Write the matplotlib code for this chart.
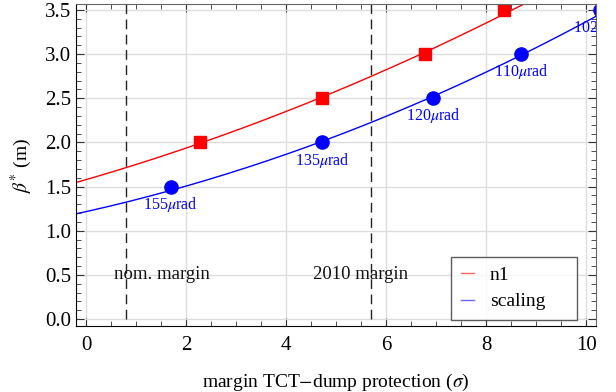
import numpy as np
import matplotlib
matplotlib.use("Agg")
import matplotlib.pyplot as plt
from matplotlib.ticker import MultipleLocator

plt.rcParams['font.family'] = ['Liberation Serif', 'DejaVu Serif']
plt.rcParams['mathtext.fontset'] = 'stix'

# data
n1_x = [2.28, 4.72, 6.78, 8.35]
n1_y = [2.0, 2.5, 3.0, 3.5]
sc_x = [1.69, 4.72, 6.93, 8.70, 10.27]
sc_y = [1.5, 2.0, 2.5, 3.0, 3.5]
sc_labels = ["155$\\mu$rad", "135$\\mu$rad", "120$\\mu$rad", "110$\\mu$rad", "102$\\mu$rad"]
# curve readings (including axis-edge values)
n1_curve_x = [-0.2, 0.8, 2.28, 4.72, 6.78, 7.47, 8.35, 8.85]
n1_curve_y = [1.54, 1.72, 2.0, 2.5, 3.0, 3.235, 3.48, 3.567]
sc_curve_x = [-0.2, 0.8, 1.69, 4.72, 6.93, 8.70, 10.19]
sc_curve_y = [1.17, 1.32, 1.5, 2.0, 2.5, 3.0, 3.43]
margins = [0.8, 5.7]
margin_labels = ["nom. margin", "2010 margin"]
margin_label_x = [1.51, 5.49]

fig = plt.figure(figsize=(6.16, 3.92), dpi=100)
ax = fig.add_axes([0.1234, 0.168, 0.9675 - 0.1234, 0.9898 - 0.168])

xs = np.linspace(-0.3, 10.4, 300)
pr = np.polyfit(n1_curve_x, n1_curve_y, 2)
pb = np.polyfit(sc_curve_x, sc_curve_y, 2)
ax.plot(xs, np.polyval(pr, xs), color='#ff0000', lw=1.0, label='n1')
ax.plot(xs, np.polyval(pb, xs), color='#0000ff', lw=1.0, label='scaling')
ax.plot(n1_x, n1_y, 's', color='#ff0000', ms=8.5, ls='none')
ax.plot(sc_x, sc_y, 'o', color='#0000ff', ms=9.5, ls='none')

for x, y, t in zip(sc_x, sc_y, sc_labels):
    ax.text(x, y - 0.2, t, color='#0000ff', fontsize=11.5, ha='center', va='center', clip_on=True)

for m in margins:
    ax.plot([m, m], [0, 3.7], ls=(0, (7, 4)), color='#222222', lw=1.0)
for x, t in zip(margin_label_x, margin_labels):
    ax.text(x, 0.5, t, fontsize=13.5, ha='center', va='center', color='#111111')

ax.set_xlim(-0.2, 10.19)
ax.set_ylim(-0.08, 3.567)
ax.xaxis.set_major_locator(MultipleLocator(2))
ax.xaxis.set_minor_locator(MultipleLocator(0.5))
ax.yaxis.set_major_locator(MultipleLocator(0.5))
ax.yaxis.set_minor_locator(MultipleLocator(0.1))
ax.yaxis.set_major_formatter(matplotlib.ticker.FormatStrFormatter('%.1f'))
ax.grid(True, which='major', color='#dddddd', lw=1.0)
ax.set_axisbelow(True)
ax.tick_params(which='both', direction='in', top=True, right=True, labelsize=15, color='#333333')
ax.tick_params(which='major', length=6)
ax.tick_params(which='minor', length=3.5)
ax.tick_params(axis='x', pad=7)
for s in ['left', 'bottom']:
    ax.spines[s].set_color('black')
for s in ['top', 'right']:
    ax.spines[s].set_color('#666666')
ax.set_xlabel('margin TCT$-$dump protection ($\\sigma$)', fontsize=14, labelpad=12)
ax.set_ylabel('$\\beta^{*}$ (m)', fontsize=14, labelpad=8)

leg = ax.legend(loc='lower left', bbox_to_anchor=(0.721, 0.0186, 0.242, 0.19), mode='expand',
                fontsize=14, handlelength=0.7,
                frameon=True, fancybox=False, edgecolor='#333333', borderpad=0.5, labelspacing=0.45,
                handletextpad=0.8, borderaxespad=0)
leg.get_frame().set_linewidth(1.0)
for h in leg.get_lines():
    h.set_alpha(0.6)

fig.savefig('out.png', dpi=100)
